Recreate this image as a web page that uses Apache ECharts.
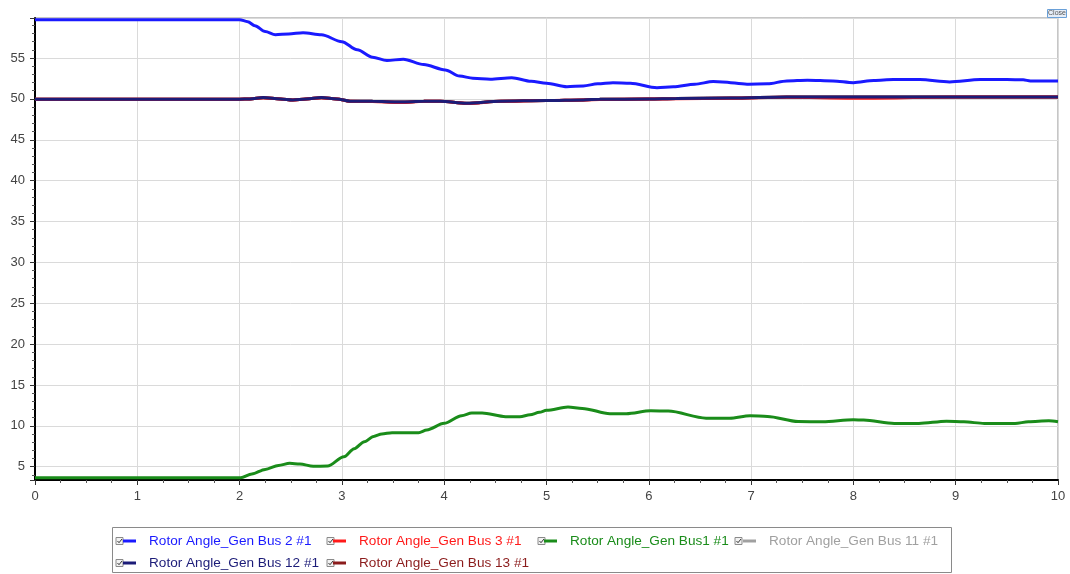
<!DOCTYPE html>
<html lang="en">
<head>
  <meta charset="UTF-8">
  <title>Rotor Angle</title>
  <script type="text/javascript" src="https://cdn.jsdelivr.net/npm/echarts@6/dist/echarts.min.js"></script>
  <style>
    html, body { margin: 0; padding: 0; background: #fff; }
    #chart { width: 1070px; height: 574px; }
  </style>
</head>
<body>
  <div id="chart"></div>
  <script type="text/javascript">
    // time axis (s) and rotor angle (deg)
    var bus2Time = [0, 2.0, 2.08, 2.15, 2.25, 2.35, 2.48, 2.62, 2.8, 3.0, 3.15, 3.3, 3.44, 3.6, 3.8, 4.01, 4.15, 4.28, 4.45, 4.66, 4.85, 5.0, 5.2, 5.36, 5.5, 5.65, 5.82, 6.08, 6.24, 6.45, 6.63, 6.72, 6.96, 7.16, 7.35, 7.55, 7.8, 8.0, 8.2, 8.39, 8.65, 8.94, 9.24, 9.5, 9.66, 9.73, 10];
    var bus2Angle = [59.7, 59.7, 59.45, 58.95, 58.25, 57.85, 57.95, 58.1, 57.85, 57.0, 56.0, 55.1, 54.69, 54.86, 54.2, 53.55, 52.8, 52.53, 52.41, 52.6, 52.15, 51.92, 51.5, 51.59, 51.84, 51.99, 51.92, 51.38, 51.5, 51.8, 52.12, 52.08, 51.8, 51.84, 52.2, 52.29, 52.2, 51.99, 52.25, 52.36, 52.36, 52.08, 52.36, 52.36, 52.33, 52.2, 52.2];

    var bus1Time = [0, 2.01, 2.12, 2.25, 2.38, 2.49, 2.59, 2.72, 2.86, 3.02, 3.12, 3.22, 3.31, 3.39, 3.49, 3.75, 3.83, 4.0, 4.17, 4.27, 4.37, 4.6, 4.74, 4.84, 4.93, 5.0, 5.21, 5.35, 5.62, 5.78, 6.02, 6.19, 6.56, 6.79, 6.99, 7.16, 7.46, 7.7, 8.0, 8.1, 8.4, 8.64, 8.91, 9.08, 9.28, 9.58, 9.71, 9.91, 10];
    var bus1Angle = [3.65, 3.65, 4.1, 4.67, 5.15, 5.41, 5.33, 5.05, 5.08, 6.22, 7.2, 8.06, 8.7, 9.0, 9.16, 9.16, 9.49, 10.3, 11.24, 11.57, 11.57, 11.12, 11.12, 11.35, 11.65, 11.89, 12.3, 12.13, 11.48, 11.48, 11.84, 11.8, 10.94, 10.94, 11.23, 11.15, 10.53, 10.49, 10.74, 10.7, 10.29, 10.29, 10.57, 10.49, 10.29, 10.29, 10.49, 10.61, 10.49];

    var bus12Time = [0, 2.0, 2.1, 2.23, 2.4, 2.52, 2.65, 2.8, 2.95, 3.08, 3.3, 3.57, 3.8, 3.96, 4.22, 4.55, 5.0, 5.36, 5.52, 6.0, 6.27, 6.8, 7.35, 8.0, 9.0, 10];
    var bus12Angle = [49.96, 49.96, 50.0, 50.16, 50.0, 49.88, 50.0, 50.16, 50.0, 49.72, 49.7, 49.63, 49.7, 49.72, 49.47, 49.72, 49.8, 49.88, 49.96, 49.98, 50.04, 50.1, 50.24, 50.24, 50.24, 50.24];
    // hidden underneath bus 12 almost everywhere
    var bus3Angle = [49.96, 49.96, 50.0, 50.14, 50.0, 49.86, 50.0, 50.14, 50.0, 49.7, 49.68, 49.55, 49.7, 49.72, 49.45, 49.7, 49.8, 49.86, 49.94, 49.98, 50.02, 50.08, 50.2, 50.08, 50.22, 50.22];
    var bus13Angle = [49.96, 49.96, 50.0, 50.15, 50.0, 49.88, 50.0, 50.15, 50.0, 49.72, 49.7, 49.62, 49.7, 49.72, 49.47, 49.72, 49.8, 49.88, 49.96, 49.98, 50.04, 50.1, 50.23, 50.23, 50.23, 50.23];
    var bus11Angle = [49.96, 49.96, 50.0, 50.15, 50.0, 49.88, 50.0, 50.15, 50.0, 49.72, 49.7, 49.62, 49.7, 49.72, 49.47, 49.72, 49.8, 49.88, 49.96, 49.98, 50.04, 50.1, 50.23, 50.23, 50.23, 50.23];

    var names = ['Rotor Angle_Gen Bus 2 #1', 'Rotor Angle_Gen Bus 3 #1', 'Rotor Angle_Gen Bus1 #1',
                 'Rotor Angle_Gen Bus 11 #1', 'Rotor Angle_Gen Bus 12 #1', 'Rotor Angle_Gen Bus 13 #1'];
    var colors = ['#1a1aff', '#ff1a1a', '#1a8c1a', '#a0a0a0', '#1c1c78', '#8b1c1c'];
    var xTicks = [0, 1, 2, 3, 4, 5, 6, 7, 8, 9, 10];

    function pairs(t, v) {
      return t.map(function (x, i) { return [x, v[i]]; });
    }

    var FONT = '"Liberation Sans", Arial, sans-serif';

    var chart = echarts.init(document.getElementById('chart'), null, { width: 1070, height: 574 });

    function line(idx, t, v) {
      return {
        name: names[idx],
        type: 'line',
        data: pairs(t, v),
        showSymbol: false,
        symbol: 'none',
        smooth: 0.3,
        smoothMonotone: 'x',
        lineStyle: { color: colors[idx], width: 3 },
        itemStyle: { color: colors[idx] },
        emphasis: { disabled: true },
        animation: false
      };
    }

    function legendCol(left, idxs) {
      return {
        orient: 'vertical',
        left: left,
        top: 533,
        padding: 0,
        icon: 'rect',
        itemWidth: 13,
        itemHeight: 3,
        itemGap: 6,
        selectedMode: false,
        data: idxs.map(function (i) {
          return { name: names[i], textStyle: { color: colors[i] } };
        }),
        textStyle: { fontFamily: FONT, fontSize: 13.6, lineHeight: 16, padding: [0, 0, 0, 8] }
      };
    }

    // little check boxes in front of each legend entry
    function checkbox(x, y) {
      return {
        type: 'group', x: x, y: y, silent: true,
        children: [
          { type: 'rect', shape: { x: 0, y: 0, width: 7, height: 7 },
            style: { fill: '#f2f2f2', stroke: '#8a8a8a', lineWidth: 1 } },
          { type: 'polyline', shape: { points: [[1.5, 3.5], [3, 5.2], [6, 1.5]] },
            style: { fill: null, stroke: '#333', lineWidth: 1 } }
        ]
      };
    }

    var option = {
      backgroundColor: '#fff',
      animation: false,
      grid: {
        left: 35, right: 12, top: 18, bottom: 94,
        show: true, borderColor: '#8c8c8c', borderWidth: 1
      },
      xAxis: {
        type: 'value',
        min: xTicks[0],
        max: xTicks[xTicks.length - 1],
        interval: 1,
        axisLine: { lineStyle: { color: '#000', width: 2 } },
        axisTick: { show: true, length: 5, lineStyle: { color: '#333' } },
        minorTick: { show: true, splitNumber: 4, length: 3, lineStyle: { color: '#555' } },
        axisLabel: { color: '#444', fontFamily: FONT, fontSize: 13, margin: 10 },
        splitLine: { lineStyle: { color: '#dadada', width: 1 } }
      },
      yAxis: {
        type: 'value',
        min: 3.37,
        max: 59.9,
        splitNumber: 11,
        offset: 3,
        axisLine: { show: true, lineStyle: { color: '#000', width: 2 } },
        axisTick: { show: true, length: 5, lineStyle: { color: '#333' } },
        minorTick: { show: true, splitNumber: 5, length: 3, lineStyle: { color: '#555' } },
        axisLabel: {
          color: '#444', fontFamily: FONT, fontSize: 13, margin: 7,
          showMinLabel: false, showMaxLabel: false,
          formatter: function (v) { return Math.abs(v % 5) < 1e-6 ? String(v) : ''; }
        },
        splitLine: { lineStyle: { color: '#dadada', width: 1 } }
      },
      legend: [
        legendCol(123, [0, 4]),
        legendCol(333, [1, 5]),
        legendCol(544, [2]),
        legendCol(743, [3])
      ],
      graphic: [
        { type: 'rect', silent: true, shape: { x: 112.5, y: 527.5, width: 839, height: 45 },
          style: { fill: null, stroke: '#8a8a8a', lineWidth: 1 } },
        checkbox(116, 537.5), checkbox(116, 559.5),
        checkbox(327, 537.5), checkbox(327, 559.5),
        checkbox(538, 537.5), checkbox(735, 537.5),
        { type: 'rect', silent: true, shape: { x: 1047.5, y: 9.5, width: 19, height: 8 },
          style: { fill: '#e6edf7', stroke: '#6aa0d8', lineWidth: 1 } },
        { type: 'text', silent: true, x: 1057, y: 13.5,
          style: { text: 'Close', fill: '#555', font: '7px "Liberation Sans", Arial, sans-serif',
                   align: 'center', verticalAlign: 'middle' } }
      ],
      series: [
        line(0, bus2Time, bus2Angle),
        line(2, bus1Time, bus1Angle),
        line(3, bus12Time, bus11Angle),
        line(5, bus12Time, bus13Angle),
        line(1, bus12Time, bus3Angle),
        line(4, bus12Time, bus12Angle)
      ]
    };

    chart.setOption(option);
  </script>
</body>
</html>
